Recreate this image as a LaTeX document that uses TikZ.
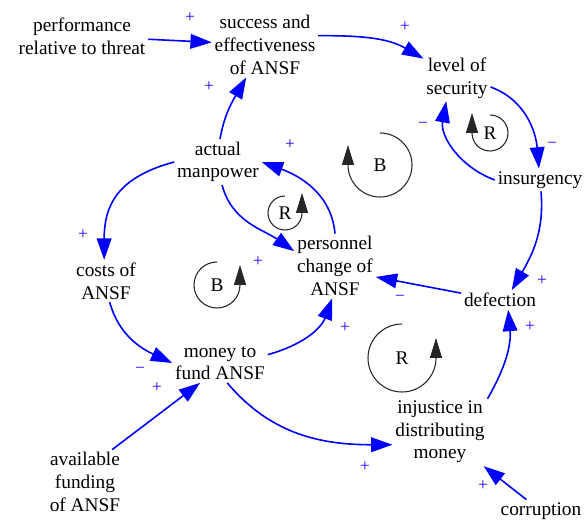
\documentclass[tikz,border=0pt]{standalone}
\usepackage{fontspec}
\setmainfont{Liberation Serif}
\usetikzlibrary{arrows.meta}

\begin{document}
\begin{tikzpicture}[x=0.75pt,y=0.75pt,
    var/.style={align=center,inner sep=2pt,font=\fontsize{14.5}{17}\selectfont},
    link/.style={draw=blue,line width=1.2pt,-{Triangle[length=16pt,width=11pt]}},
    pol/.style={text=signcol,inner sep=0pt,font=\fontsize{13}{13}\selectfont},
    loopline/.style={draw=black!85,line width=0.8pt,-{Triangle[length=15pt,width=9pt]}},
    looptag/.style={inner sep=0pt,font=\fontsize{14.5}{17}\selectfont}]
    \colorlet{signcol}{blue!85!magenta}
    \useasboundingbox (0,0) rectangle (585,-523);

    % variables
    \node[var] (perf) at (82,-36) {performance\\relative to threat};
    \node[var] (succ) at (265,-45) {success and\\effectiveness\\of ANSF};
    \node[var] (lev) at (457,-78) {level of\\security};
    \node[var] (act) at (218,-162) {actual\\manpower};
    \node[var] (ins) at (540,-180) {insurgency};
    \node[var] (cost) at (106,-281) {costs of\\ANSF};
    \node[var] (pers) at (335,-266) {personnel\\change of\\ANSF};
    \node[var] (def) at (500,-300) {defection};
    \node[var] (mon) at (220,-363) {money to\\fund ANSF};
    \node[var] (inj) at (440,-432) {injustice in\\distributing\\money};
    \node[var] (avail) at (85,-482) {available\\funding\\of ANSF};
    \node[var] (corr) at (541,-511) {corruption};

    % causal links
    \draw[link] (perf) -- (succ);
    \draw[link] (succ.10) to[out=0,in=150] (lev);
    \draw[link] (lev.-15) to[out=-20,in=95] (ins);
    \draw[link] (ins.west) to[out=160,in=-100] (lev.-115);
    \draw[link] (ins.-85) to[out=-85,in=60] (def.40);
    \draw[link] (def.170) -- (pers.-15);
    \draw[link] (inj.35) to[out=60,in=-85] (def.-50);
    \draw[link] (pers.north) to[out=95,in=-20] (act.east);
    \draw[link] (act.85) to[out=80,in=-120] (succ.-120);
    \draw[link] (act.west) to[out=195,in=90,looseness=1.2] (cost.95);
    \draw[link] (cost.-80) to[out=-75,in=155] (mon.west);
    \draw[link] (act.-80) to[out=-75,in=145] (pers.160);
    \draw[link] (mon.10) to[out=15,in=-110] (pers.-95);
    \draw[link] (mon.-70) to[out=-50,in=180] (inj.195);
    \draw[link] (avail.50) -- (mon.-135);
    \draw[link] (corr) -- (inj);

    % polarities
    \node[pol] (s1) at (190,-18) {+};
    \node[pol] (s2) at (405,-27) {+};
    \node[pol] (s3) at (552,-145) {−};
    \node[pol] (s4) at (423,-125) {−};
    \node[pol] (s5) at (209,-87) {+};
    \node[pol] (s6) at (290,-145) {+};
    \node[pol] (s7) at (83,-235) {+};
    \node[pol] (s8) at (258,-262) {+};
    \node[pol] (s9) at (542,-281) {+};
    \node[pol] (s10) at (400,-298) {−};
    \node[pol] (s11) at (345,-328) {+};
    \node[pol] (s12) at (530,-327) {+};
    \node[pol] (s13) at (140,-370) {−};
    \node[pol] (s14) at (157,-388) {+};
    \node[pol] (s15) at (365,-467) {+};
    \node[pol] (s16) at (483,-486) {+};

    % loop markers
    \node[looptag] (bA) at (380,-165) {B};
    \draw[loopline] (bA.center) ++(0,32) arc[start angle=90,end angle=-180,radius=32] -- ++(0,20);
    \node[looptag] (rA) at (490,-133) {R};
    \draw[loopline] (rA.center) ++(0,18) arc[start angle=90,end angle=-180,radius=18] -- ++(0,20);
    \node[looptag] (rB) at (285,-213) {R};
    \draw[loopline] (rB.center) ++(0,17) arc[start angle=90,end angle=360,radius=17] -- ++(0,20);
    \node[looptag] (bB) at (217,-285) {B};
    \draw[loopline] (bB.center) ++(0,23) arc[start angle=90,end angle=360,radius=23] -- ++(0,20);
    \node[looptag] (rC) at (402,-358) {R};
    \draw[loopline] (rC.center) ++(0,34) arc[start angle=90,end angle=360,radius=34] -- ++(0,20);
\end{tikzpicture}
\end{document}
